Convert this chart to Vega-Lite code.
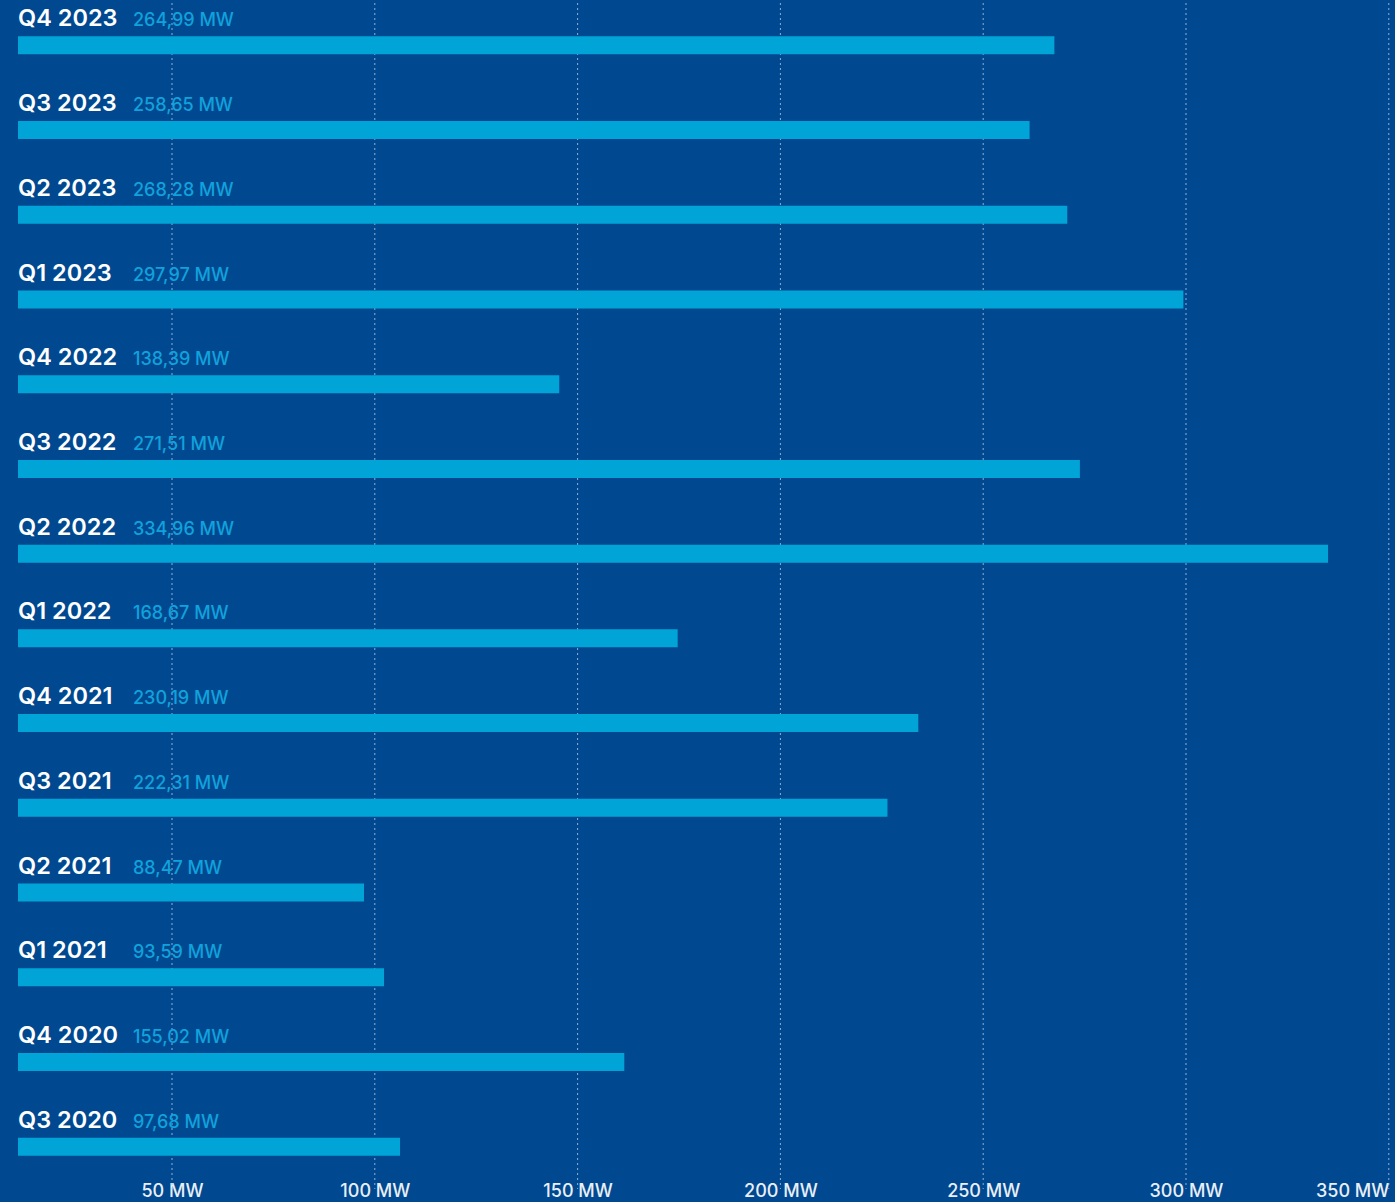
{
  "$schema": "https://vega.github.io/schema/vega-lite/v6.json",
  "width": 1372,
  "height": 1186,
  "autosize": {"type": "none"},
  "padding": {"left": 18, "top": 3, "right": 5, "bottom": 13},
  "background": "#004990",
  "config": {"view": {"stroke": null}, "font": "Inter"},
  "datasets": {
    "bars": [
      {"quarter": "Q4 2023", "mw": 264.99},
      {"quarter": "Q3 2023", "mw": 258.65},
      {"quarter": "Q2 2023", "mw": 268.28},
      {"quarter": "Q1 2023", "mw": 297.97},
      {"quarter": "Q4 2022", "mw": 138.39},
      {"quarter": "Q3 2022", "mw": 271.51},
      {"quarter": "Q2 2022", "mw": 334.96},
      {"quarter": "Q1 2022", "mw": 168.67},
      {"quarter": "Q4 2021", "mw": 230.19},
      {"quarter": "Q3 2021", "mw": 222.31},
      {"quarter": "Q2 2021", "mw": 88.47},
      {"quarter": "Q1 2021", "mw": 93.59},
      {"quarter": "Q4 2020", "mw": 155.02},
      {"quarter": "Q3 2020", "mw": 97.68}
    ],
    "ticks": [
      {"mw": 50}, {"mw": 100}, {"mw": 150}, {"mw": 200}, {"mw": 250}, {"mw": 300}, {"mw": 350}
    ]
  },
  "layer": [
    {
      "data": {"name": "ticks"},
      "mark": {"type": "rule", "color": "#a9c1e0", "strokeDash": [2, 3], "strokeWidth": 1, "opacity": 0.85},
      "encoding": {
        "x": {
          "field": "mw",
          "type": "quantitative",
          "scale": {"domain": [12.03, 350.3], "nice": false, "zero": false},
          "axis": {
            "orient": "bottom",
            "values": [50, 100, 150, 200, 250, 300, 350],
            "labelExpr": "datum.value + ' MW'",
            "grid": false,
            "ticks": false,
            "domain": false,
            "title": null,
            "labelFontSize": 18,
            "labelFont": "Inter",
            "labelFontWeight": 500,
            "labelColor": "#e9eff7",
            "labelFlush": 5,
            "labelPadding": 0,
            "offset": -7
          }
        }
      }
    },
    {
      "data": {"name": "bars"},
      "transform": [
        {"calculate": "replace(format(datum.mw, '.2f'), '.', ',') + ' MW'", "as": "label"}
      ],
      "encoding": {
        "y": {
          "field": "quarter",
          "type": "nominal",
          "sort": null,
          "axis": null,
          "scale": {"paddingInner": 0, "paddingOuter": 0}
        }
      },
      "layer": [
        {
          "mark": {"type": "bar", "color": "#00a4d6", "size": 18},
          "encoding": {
            "x": {
              "field": "mw",
              "type": "quantitative",
              "scale": {"domain": [0, 350.8], "nice": false},
              "axis": null
            }
          }
        },
        {
          "mark": {"type": "text", "align": "left", "baseline": "alphabetic", "dy": -19, "fontSize": 23.5, "fontWeight": 600, "color": "#ffffff", "font": "Inter"},
          "encoding": {
            "x": {"datum": 0, "type": "quantitative"},
            "text": {"field": "quarter"}
          }
        },
        {
          "mark": {"type": "text", "align": "left", "baseline": "alphabetic", "dy": -19, "dx": 115, "fontSize": 18, "fontWeight": 500, "color": "#10a2dc", "font": "Inter"},
          "encoding": {
            "x": {"datum": 0, "type": "quantitative"},
            "text": {"field": "label"}
          }
        }
      ]
    }
  ],
  "resolve": {"scale": {"x": "independent"}}
}
